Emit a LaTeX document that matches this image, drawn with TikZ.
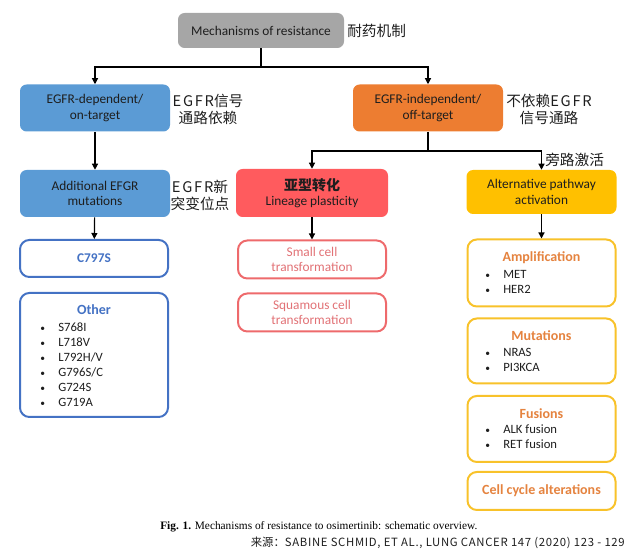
\documentclass[tikz,border=0pt]{standalone}
\usepackage{fontspec}
\setmainfont{Carlito}
\newfontfamily\cjk{Noto Sans CJK SC}
\newfontfamily\cjkwide{Noto Sans CJK SC}[LetterSpace=12]
\newfontfamily\srcwide{Noto Sans CJK SC}[LetterSpace=6]
\newfontfamily\capfont{Liberation Serif}
\usepackage{tikz}
\usetikzlibrary{arrows.meta,calc,positioning}
\definecolor{boxgray}{HTML}{A6A6A6}
\definecolor{boxblue}{HTML}{5B9BD5}
\definecolor{boxorange}{HTML}{ED7D31}
\definecolor{boxred}{HTML}{FF5B5E}
\definecolor{boxyellow}{HTML}{FFC000}
\definecolor{lineblue}{HTML}{4472C4}
\definecolor{linered}{HTML}{EE6A6C}
\definecolor{textred}{HTML}{E27276}
\definecolor{lineyellow}{HTML}{F8C22A}
\definecolor{textorange}{HTML}{E5833F}
\definecolor{txtdark}{HTML}{1E1E1E}
\tikzset{
  solid box/.style={rounded corners=5pt, minimum width=112.5pt, minimum height=35.25pt,
    align=center, inner sep=2pt, text=txtdark, font=\fontsize{10}{11.5}\selectfont},
  graybox/.style={solid box, fill=boxgray, minimum width=124.5pt, minimum height=26.25pt},
  bluebox/.style={solid box, fill=boxblue},
  orangebox/.style={solid box, fill=boxorange},
  redbox/.style={solid box, fill=boxred, minimum width=114pt, minimum height=36pt},
  yellowbox/.style={solid box, fill=boxyellow, minimum height=33pt},
  outline/.style={rounded corners=7pt, line width=1.5pt, fill=white, minimum width=111pt,
    align=center, inner sep=2pt, font=\fontsize{10}{11.5}\selectfont},
  blueline/.style={outline, draw=lineblue, text=lineblue},
  redline/.style={outline, draw=linered, text=textred, minimum height=28.5pt},
  yellowline/.style={outline, draw=lineyellow, text=textorange},
  head/.style={font=\bfseries\fontsize{10.5}{12}\selectfont, inner sep=0pt},
  items/.style={align=left, anchor=north west, inner sep=0pt, text=txtdark,
    font=\fontsize{9.5}{11.25}\selectfont},
  cnlabel/.style={align=center, inner sep=0pt, text=txtdark, font=\cjk\fontsize{11}{12.75}\selectfont},
  link/.style={line width=0.9pt},
  arr/.style={link, -{Triangle[length=4.5pt,width=4.5pt]}}
}
\newcommand{\itm}[1]{\scalebox{0.75}{\textbullet}\hspace{10pt}#1}

\begin{document}
\begin{tikzpicture}[x=0.75pt,y=-0.75pt]
\useasboundingbox (0,0) rectangle (640,559);
\node[graybox] (mech) at (261,30.5) {Mechanisms of resistance};
\node[cnlabel, anchor=west] (mechcn) at (347,31) {耐药机制};
\node[bluebox] (dep) at (95,108) {EGFR-dependent/\\on-target};
\node[cnlabel] (depcn) at (208,109) {{\cjkwide EGFR}信号\\通路依赖};
\node[orangebox] (indep) at (428,108) {EGFR-independent/\\off-target};
\node[cnlabel] (indepcn) at (549,109) {不依赖{\cjkwide EGFR}\\信号通路};
\node[bluebox] (addmut) at (95,193.5) {Additional EFGR\\mutations};
\node[cnlabel] (addmutcn) at (200,195) {{\cjkwide EGFR}新\\突变位点};
\node[redbox] (lin) at (312,193) {{\cjk\bfseries\fontsize{10.5}{12}\selectfont 亚型转化}\\Lineage plasticity};
\node[yellowbox] (alt) at (541.5,192) {Alternative pathway\\activation};
\node[cnlabel, anchor=west] (altcn) at (545,160) {旁路激活};

% tree connectors
\coordinate (j1) at (261,67);
\coordinate (j2) at (428,151);
\draw[link] (mech) -- (j1);
\draw[arr] (j1) -| (dep);
\draw[arr] (j1) -| (indep);
\draw[link] (indep) -- (j2);
\draw[arr] (j2) -| (lin);
\draw[arr] (j2) -| (alt);

% on-target column
\node[blueline, minimum height=27.75pt] (c797) at (94,258.5) {\bfseries C797S};
\node[blueline, minimum height=93pt] (other) at (94,355) {};
\node[head, text=lineblue] (otherhd) at (94,310) {Other};
\node[items] (otherls) at (40,322.5) {\itm{S768I}\\\itm{L718V}\\\itm{L792H/V}\\\itm{G796S/C}\\\itm{G724S}\\\itm{G719A}};
\draw[arr] (dep) -- (addmut);
\draw[arr] (addmut) -- (c797);

% lineage column
\node[redline] (small) at (312,259.5) {Small cell\\transformation};
\node[redline] (squam) at (312,312.5) {Squamous cell\\transformation};
\draw[arr] (lin) -- (small);

% bypass column
\node[yellowline, minimum height=50.25pt] (amp) at (541.5,273) {};
\node[head, text=textorange] (amphd) at (541.5,258) {Amplification};
\node[items] (ampls) at (485,270) {\itm{MET}\\\itm{HER2}};
\node[yellowline, minimum height=48.75pt] (muts) at (541.5,351) {};
\node[head, text=textorange] (mutshd) at (541.5,336) {Mutations};
\node[items] (mutsls) at (485,348) {\itm{NRAS}\\\itm{PI3KCA}};
\node[yellowline, minimum height=49.5pt] (fus) at (541.5,429) {};
\node[head, text=textorange] (fushd) at (541.5,414) {Fusions};
\node[items] (fusls) at (485,425) {\itm{ALK fusion}\\\itm{RET fusion}};
\node[yellowline, minimum height=28.5pt, font=\bfseries\fontsize{10.5}{12}\selectfont] (cyc) at (541.5,491) {Cell cycle alterations};
\draw[arr] (alt) -- (amp);

\node[anchor=west, inner sep=0pt, font=\capfont\fontsize{8.5}{10}\selectfont] (cap) at (160,527)
  {\textbf{Fig. 1.} Mechanisms of resistance to osimertinib: schematic overview.};
\node[anchor=east, inner sep=0pt, text=txtdark, font=\cjk\fontsize{8.5}{10}\selectfont] (src) at (625,543)
  {来源：{\srcwide SABINE SCHMID, ET AL., LUNG CANCER 147 (2020) 123 - 129}};
\end{tikzpicture}
\end{document}
